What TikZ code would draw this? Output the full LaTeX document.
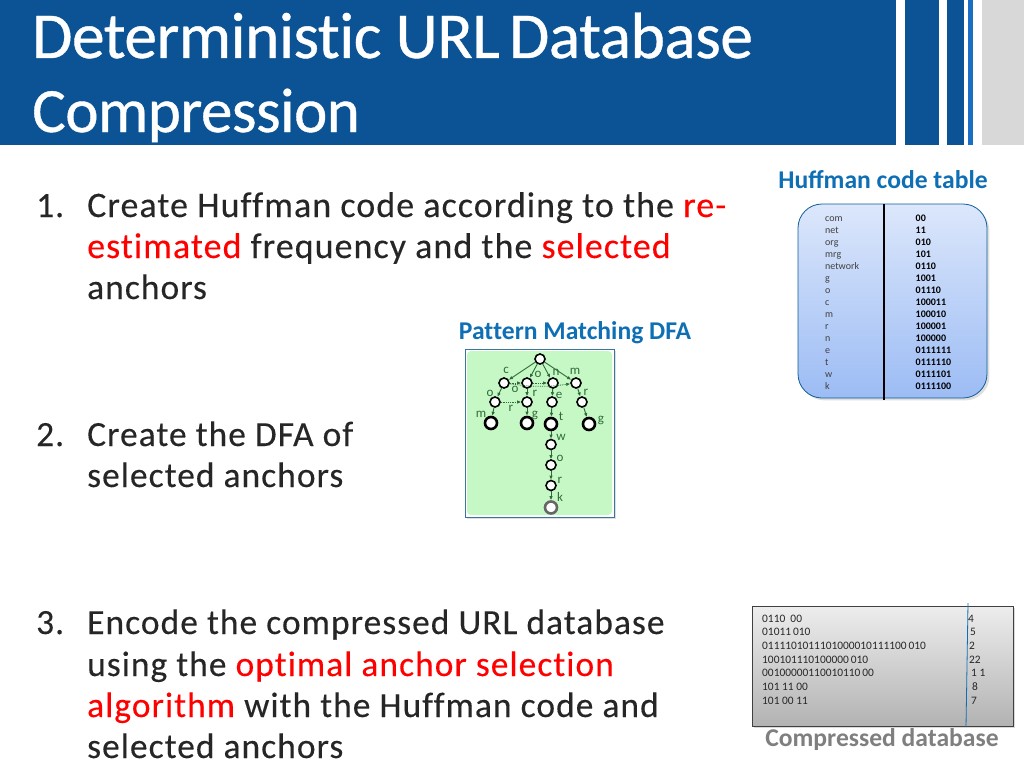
\documentclass[tikz,border=0pt]{standalone}
\usepackage{fontspec}
\setmainfont{Carlito}
\newfontfamily\bodyfont[LetterSpace=3,Ligatures=NoCommon,FakeBold=0.25]{Carlito}
\newfontfamily\titlefont[LetterSpace=-0.8,Ligatures=NoCommon,FakeBold=0.6]{Carlito}
\usepackage{xcolor}
\usetikzlibrary{automata,positioning,arrows.meta,shadows}
\definecolor{barblue}{HTML}{0B5394}
\definecolor{barlight}{HTML}{1A6FC4}
\definecolor{bargray}{HTML}{D8D8D8}
\definecolor{capblue}{HTML}{0F6FB4}
\definecolor{capgray}{HTML}{7F7F7F}
\definecolor{treegreen}{HTML}{2F6B3A}
\definecolor{anchorred}{HTML}{FF0000}
\definecolor{tabletop}{HTML}{DCE7FB}
\definecolor{tablebot}{HTML}{9CBCF4}
\definecolor{panelgreen}{HTML}{C6F8C6}
\tikzset{
  heading/.style={anchor=base west, text=white, inner sep=0pt, font=\fontsize{65.5}{66}\selectfont\titlefont},
  headingb/.style={heading, font=\fontsize{63}{64}\selectfont\titlefont},
  bodyline/.style={anchor=base west, inner sep=0pt, text=black!85, font=\fontsize{35.4}{41}\selectfont\bodyfont},
  bodywide/.style={bodyline, font=\fontsize{35.9}{41}\selectfont\bodyfont},
  caption/.style={inner sep=0pt, font=\fontsize{25.6}{26}\selectfont\bfseries},
  keytext/.style={anchor=base west, inner sep=0pt, text=black!75, font=\fontsize{10}{12}\selectfont},
  codetext/.style={anchor=base west, inner sep=0pt, text=black, font=\fontsize{10}{12}\selectfont\bfseries},
  dbtext/.style={anchor=base west, inner sep=0pt, text=black!85, font=\fontsize{11.4}{14}\selectfont},
  dfa/.style={circle, draw=black, fill=white, line width=1.6pt, minimum size=10pt, inner sep=0pt},
  dfaend/.style={dfa, line width=2.6pt, minimum size=12pt},
  lbl/.style={inner sep=0pt, text=treegreen, font=\fontsize{13}{13}\selectfont},
  tedge/.style={-{Latex[length=4pt,width=3.5pt]}, draw=treegreen, line width=0.9pt},
  fedge/.style={-{Latex[length=4pt,width=3.5pt]}, draw=treegreen, line width=0.8pt, densely dotted}
}
\begin{document}
\begin{tikzpicture}[x=1pt, y=-1pt, node distance=20.5pt, on grid]
  \useasboundingbox (0,0) rectangle (1024,768);

  % banner
  \fill[barblue] (0,0) rectangle (896,145);
  \fill[barblue] (904.5,0) rectangle (938.5,145);
  \fill[barblue] (947,0) rectangle (964,145);
  \fill[barlight] (968,0) rectangle (972.5,145);
  \fill[bargray] (981.5,0) rectangle (1024,145);

  \node[heading] (title1) at (32,58) {Deterministic URL\hspace{-5pt} Database};
  \node[headingb] (title2) at (32,132) {Compression};

  % steps
  \node[bodyline] (num1) at (36,217) {1.};
  \node[bodywide] (a1) at (87,217) {Create Huffman code according to the \textcolor{anchorred}{re-}};
  \node[bodywide] (a2) at (87,258) {\textcolor{anchorred}{estimated} frequency and the \textcolor{anchorred}{selected}};
  \node[bodyline] (a3) at (87,299) {anchors};

  \node[bodyline] (num2) at (36,446) {2.};
  \node[bodyline] (b1) at (87,446) {Create the DFA of};
  \node[bodyline] (b2) at (87,487) {selected anchors};

  \node[bodyline] (num3) at (36,634) {3.};
  \node[bodyline] (c1) at (87,634) {Encode the compressed URL database};
  \node[bodyline] (c2) at (87,676) {using the \textcolor{anchorred}{optimal anchor selection}};
  \node[bodyline] (c3) at (87,717) {\textcolor{anchorred}{algorithm} with the Huffman code and};
  \node[bodyline] (c4) at (87,758) {selected anchors};

  % huffman table
  \node[caption, text=capblue] (huffcap) at (883,180) {Huffman code table};
  \draw[draw=capblue!85!black, line width=0.8pt, top color=tabletop, bottom color=tablebot, drop shadow={opacity=0.25}, rounded corners=24pt] (798,204) rectangle (987,398);
  \coordinate (splittop) at (884,204);
  \coordinate (splitbot) at (884,400);
  \draw[line width=1.6pt, black] (splittop) -- (splitbot);
  \foreach \key/\code [count=\i] in {com/00,net/11,org/010,mrg/101,network/0110,g/1001,o/01110,c/100011,m/100010,r/100001,n/100000,e/0111111,t/0111110,w/0111101,k/0111100}{
    \node[keytext] (key\i) at (825,{221+12*(\i-1)}) {\key};
    \node[codetext] (code\i) at (915.5,{221.5+12*(\i-1)}) {\code};
  }

  % dfa panel
  \node[caption, text=capblue] (dfacap) at (575,333) {Pat\kern0pt tern Matching DFA};
  \fill[white, draw=capblue!60!gray, line width=1pt, drop shadow={opacity=0.25}] (465,349) rectangle (614,517);
  \fill[panelgreen, rounded corners=4pt] (467,351) rectangle (612,515);

  \node[dfa] (root) at (540,359) {};
  \node[dfa] (c) at (504,383) {};
  \node[dfa] (o) at (527,383) {};
  \node[dfa] (n) at (553,383) {};
  \node[dfa] (m) at (576,383) {};
  \node[dfa] (co) at (495,402) {};
  \node[dfa] (or) at (527,402) {};
  \node[dfa] (ne) at (552,402) {};
  \node[dfa] (mr) at (582,402) {};
  \node[dfaend] (com) at (491,423) {};
  \node[dfaend] (org) at (527,423) {};
  \node[dfaend] (net) at (551,424) {};
  \node[dfaend] (mrg) at (589,424) {};
  \node[dfa] (w) [below of=net] {};
  \node[dfa] (wo) [below of=w] {};
  \node[dfa] (wr) [below of=wo] {};
  \node[dfaend, draw=black!60] (k) [below of=wr, yshift=-1.5pt] {};

  \path[tedge]
    (root) edge (c)
    (root) edge (o)
    (root) edge (n)
    (root) edge (m)
    (c) edge (co)
    (o) edge (or)
    (n) edge (ne)
    (m) edge (mr)
    (co) edge (com)
    (or) edge (org)
    (ne) edge (net)
    (mr) edge (mrg)
    (net) edge (w)
    (w) edge (wo)
    (wo) edge (wr)
    (wr) edge (k);
  \path[fedge]
    (c) edge (o)
    (o) edge (n)
    (c) edge[bend right=8] (m)
    (co) edge (or);

  \node[lbl] (lc) at (506,370) {c};
  \node[lbl] (lo) at (538,374) {o};
  \node[lbl] (ln) at (556,372) {n};
  \node[lbl] (lm) at (575,371) {m};
  \node[lbl] (lo2) at (490,393) {o};
  \node[lbl] (lo3) at (515,389) {o};
  \node[lbl] (lr) at (535,393) {r};
  \node[lbl] (le) at (559,395) {e};
  \node[lbl] (lr2) at (586,392) {r};
  \node[lbl] (lr3) at (511,408) {r};
  \node[lbl] (lm2) at (481,414) {m};
  \node[lbl] (lg) at (535,415) {g};
  \node[lbl] (lt) at (561,416) {t};
  \node[lbl] (lg2) at (601,420) {g};
  \node[lbl] (lw) at (561,437) {w};
  \node[lbl] (lo4) at (560,458) {o};
  \node[lbl] (lr4) at (560,480) {r};
  \node[lbl] (lk) at (560,497) {k};

  % compressed database
  \draw[draw=black!75, line width=1pt, top color=black!7, bottom color=black!30, drop shadow={opacity=0.3}] (752,606) rectangle (1013,726);
  \coordinate (dbtop) at (968,603);
  \coordinate (dbbot) at (966,727);
  \draw[capblue, line width=0.8pt] (dbtop) -- (dbbot);
  \foreach \bits/\len/\xpos [count=\i] in {0110\ \ 00/4/968,01011\,010/5/970,0111101011101000010111100\,010/2/969,100101110100000\,010/22/969,00100000110010110\,00/1\ 1/971,101\ 11\ 00/8/972,101\ 00\ 11/7/971}{
    \node[dbtext] (row\i) at (762,{622+13.7*(\i-1)}) {\bits};
    \node[dbtext] (len\i) at (\xpos,{622+13.7*(\i-1)}) {\len};
  }
  \node[caption, text=capgray] (dbcap) at (882,739.5) {Compressed database};
\end{tikzpicture}
\end{document}
